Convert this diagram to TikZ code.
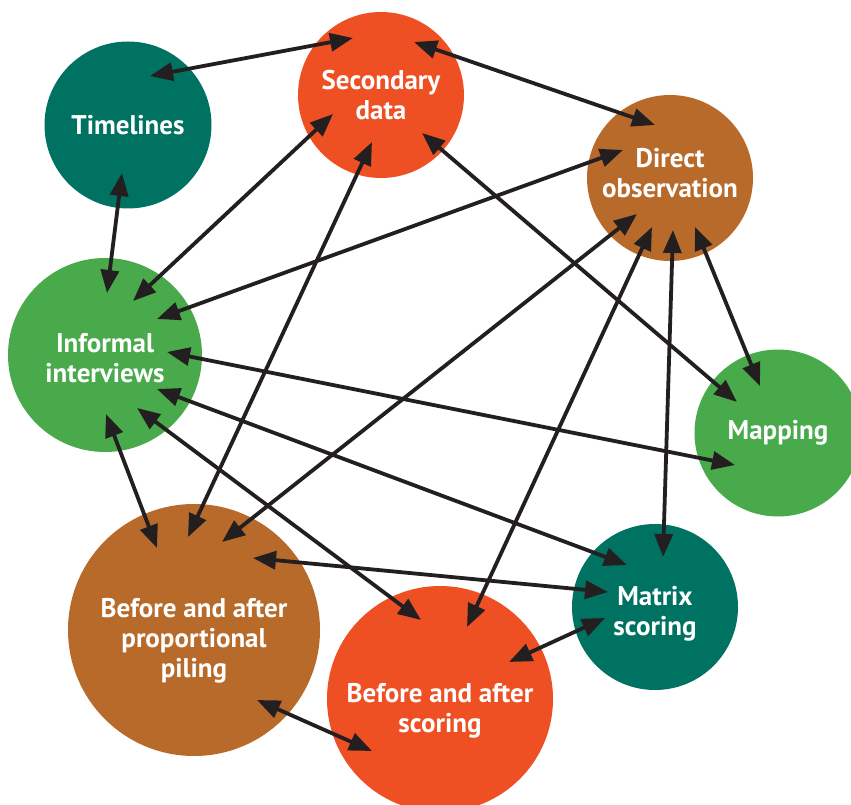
\documentclass[tikz,border=0pt]{standalone}
\usepackage{fontspec}
\setmainfont{PT Sans}
\usetikzlibrary{arrows.meta, calc}

\definecolor{teal}{RGB}{0,114,98}
\definecolor{rust}{RGB}{239,80,35}
\definecolor{brown}{RGB}{184,106,42}
\definecolor{leaf}{RGB}{72,170,74}
\definecolor{ink}{RGB}{35,31,32}

\begin{document}
\begin{tikzpicture}[
    x=1pt, y=-1pt,
    method/.style={circle, inner sep=0pt, text=white, align=center,
        font=\bfseries\fontsize{27}{30}\selectfont},
    link/.style={draw=ink, line width=3.8pt, {Triangle[length=23pt, width=18pt]}-{Triangle[length=23pt, width=18pt]}}
]
\useasboundingbox (0,0) rectangle (851,805);

% Kreise
\node[method, fill=teal,  minimum size=167pt] (tl) at (128,125) {Timelines};
\node[method, fill=rust,  minimum size=166pt] (sd) at (381,95) {Secondary\\data};
\node[method, fill=brown, minimum size=166pt] (do) at (670,178) {Direct\\observation\rule[-10pt]{0pt}{0pt}};
\node[method, fill=leaf,  minimum size=194pt] (ii) at (105,355) {\rule{0pt}{26pt}Informal\\interviews};
\node[method, fill=leaf,  minimum size=167pt] (mp) at (778,433) {Mapping};
\node[method, fill=teal,  minimum size=166pt] (ms) at (655,607) {\rule{0pt}{33pt}Matrix\\scoring};
\node[method, fill=brown, minimum size=252pt] (pp) at (194,630) {\rule{0pt}{40pt}Before and after\\proportional\\piling};
\node[method, fill=rust,  minimum size=226pt] (bs) at (440,699) {\rule{0pt}{42pt}Before and after\\scoring};

% Pfeile
\draw[link] ($(tl)+(22,-49)$) -- ($(sd)+(-28,-57)$);
\draw[link] ($(sd)+(33,-53)$) -- ($(do)+(-15,-53)$);
\draw[link] ($(sd)+(41,38)$) -- ($(mp)+(-41,-31)$);
\draw[link] ($(sd)+(-48,19)$) -- ($(ii)+(28,-54)$);
\draw[link] ($(sd)+(-9,47)$) -- ($(pp)+(-6,-93)$);
\draw[link] ($(tl)+(-6,48)$) -- ($(ii)+(2,-62)$);
\draw[link] ($(do)+(-47,-28)$) -- ($(ii)+(52,-36)$);
\draw[link] ($(do)+(-33,36)$) -- ($(pp)+(28,-88)$);
\draw[link] ($(do)+(-18,49)$) -- ($(bs)+(27,-72)$);
\draw[link] ($(do)+(3,52)$) -- ($(ms)+(8,-50)$);
\draw[link] ($(do)+(25,49)$) -- ($(mp)+(-18,-47)$);
\draw[link] ($(ii)+(62,-3)$) -- ($(mp)+(-43,32)$);
\draw[link] ($(ii)+(52,34)$) -- ($(ms)+(-28,-42)$);
\draw[link] ($(ii)+(32,53)$) -- ($(bs)+(-19,-79)$);
\draw[link] ($(ii)+(1,59)$) -- ($(pp)+(-37,-82)$);
\draw[link] ($(pp)+(59,-72)$) -- ($(ms)+(-47,-15)$);
\draw[link] ($(pp)+(63,70)$) -- ($(bs)+(-68,52)$);
\draw[link] ($(bs)+(69,-37)$) -- ($(ms)+(-50,11)$);

\end{tikzpicture}
\end{document}
